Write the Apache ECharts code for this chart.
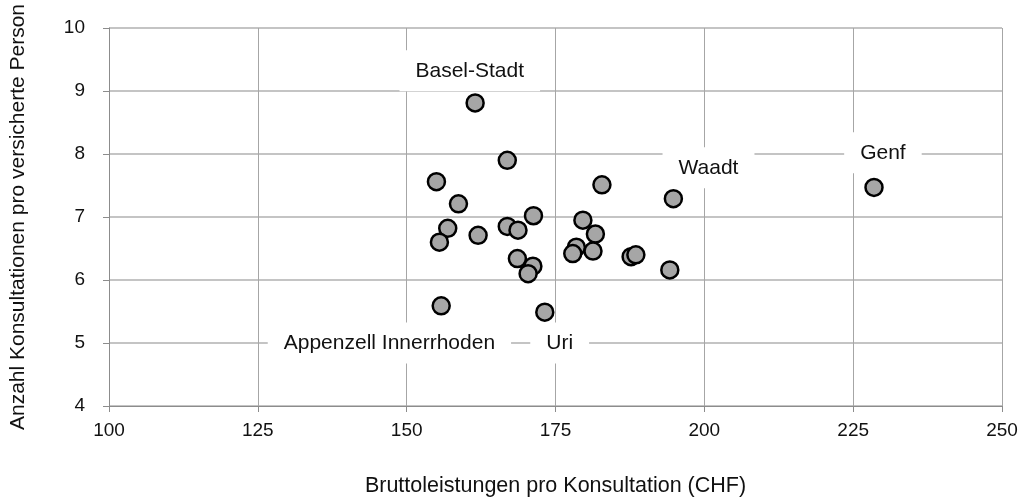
<!DOCTYPE html>
<html><head><meta charset="utf-8">
<script src="https://cdn.jsdelivr.net/npm/echarts@6/dist/echarts.min.js"></script>
<style>html,body{margin:0;padding:0;background:#fff}#c{width:1024px;height:502px}</style>
</head><body><div id="c"></div>
<script>
// Bruttoleistungen pro Konsultation (CHF) per canton
const costPerConsultation = [161.5, 166.9, 155.0, 158.7, 171.3, 156.9, 162.0, 166.9, 168.7, 155.5, 168.6, 171.2, 170.4, 155.8, 173.2, 179.6, 181.7, 178.5, 177.9, 181.3, 182.8, 194.8, 187.7, 188.5, 194.2, 228.5];
// Anzahl Konsultationen pro versicherte Person per canton
const consultationsPerPerson = [8.81, 7.90, 7.56, 7.21, 7.02, 6.82, 6.71, 6.85, 6.79, 6.60, 6.34, 6.22, 6.10, 5.59, 5.49, 6.95, 6.73, 6.52, 6.42, 6.46, 7.51, 7.29, 6.37, 6.40, 6.16, 7.47];
const xTickValues = [100, 125, 150, 175, 200, 225, 250];
const yTickValues = [4, 5, 6, 7, 8, 9, 10];
// Annotation labels (anchored in data coordinates)
const annotationNames = ['Basel-Stadt', 'Waadt', 'Genf', 'Appenzell Innerrhoden', 'Uri'];
const annotationX = [160.6, 200.7, 230.0, 147.1, 175.7];
const annotationY = [9.32, 7.78, 8.02, 5.0, 5.0];

const FONT = '"Liberation Sans", Arial, sans-serif';
const chart = echarts.init(document.getElementById('c'), null, {renderer: 'canvas'});
chart.setOption({
  backgroundColor: '#ffffff',
  animation: false,
  grid: {left: 108, right: 22, top: 28, bottom: 96, containLabel: false},
  xAxis: {
    type: 'value', min: xTickValues[0], max: xTickValues[xTickValues.length - 1], interval: 25,
    name: 'Bruttoleistungen pro Konsultation (CHF)', nameLocation: 'middle', nameGap: 69,
    nameTextStyle: {fontFamily: FONT, fontSize: 21.5, color: '#111111'},
    axisLine: {show: true, lineStyle: {color: '#8c8c8c', width: 1}},
    axisTick: {show: true, length: 6, lineStyle: {color: '#8c8c8c'}},
    axisLabel: {fontFamily: FONT, fontSize: 19, color: '#111111', margin: 15},
    splitLine: {show: true, lineStyle: {color: '#a6a6a6', width: 1}}
  },
  yAxis: {
    type: 'value', min: yTickValues[0], max: yTickValues[yTickValues.length - 1], interval: 1,
    name: 'Anzahl Konsultationen pro versicherte Person', nameLocation: 'middle', nameGap: 80,
    nameTextStyle: {fontFamily: FONT, fontSize: 21, color: '#111111'},
    axisLine: {show: true, lineStyle: {color: '#8c8c8c', width: 1}},
    axisTick: {show: true, length: 6, lineStyle: {color: '#8c8c8c'}},
    axisLabel: {fontFamily: FONT, fontSize: 19, color: '#111111', margin: 24},
    splitLine: {show: true, lineStyle: {color: '#c4c4c4', width: 2}}
  },
  series: [
    {
      type: 'scatter', z: 3,
      data: annotationNames.map((n, i) => ({name: n, value: [annotationX[i], annotationY[i]]})),
      symbol: 'rect', symbolSize: 0, silent: true,
      itemStyle: {color: '#000000', opacity: 1},
      emphasis: {disabled: true},
      label: {
        show: true, position: 'inside', formatter: p => p.name,
        fontFamily: FONT, fontSize: 21, color: '#111111', opacity: 1,
        textBorderWidth: 0, textShadowBlur: 0,
        backgroundColor: '#ffffff', padding: [10, 16]
      }
    },
    {
      type: 'scatter', z: 4,
      data: costPerConsultation.map((x, i) => [x, consultationsPerPerson[i]]),
      symbol: 'circle', symbolSize: 17,
      itemStyle: {color: '#a6a6a6', borderColor: '#000000', borderWidth: 2.5, opacity: 1}
    }
  ]
});
</script>
</body></html>
